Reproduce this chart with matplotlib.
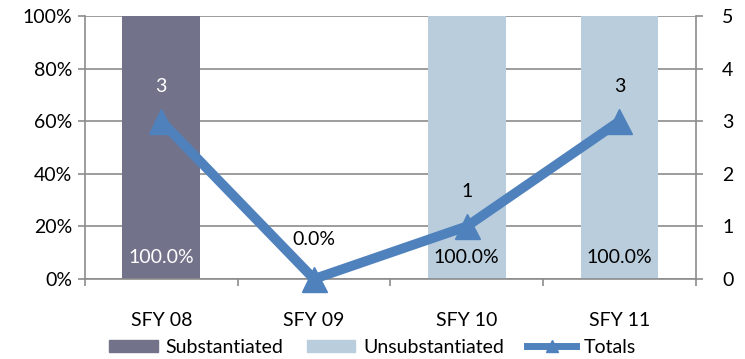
import matplotlib
matplotlib.use('Agg')
import matplotlib.pyplot as plt
from matplotlib.patches import Patch
from matplotlib.lines import Line2D

categories = ['SFY 08', 'SFY 09', 'SFY 10', 'SFY 11']
substantiated = [100.0, 0.0, 0.0, 0.0]
unsubstantiated = [0.0, 0.0, 100.0, 100.0]
totals = [3, 0, 1, 3]
pct_labels = ['100.0%', '0.0%', '100.0%', '100.0%']

c_sub = '#72738a'
c_unsub = '#b9cddc'
c_line = '#4f81bd'
grid_c = '#8c8c8c'

plt.rcParams['font.family'] = ['Lato', 'DejaVu Sans']
fs = 14

fig = plt.figure(figsize=(7.45, 3.59), dpi=100)
ax = fig.add_axes([0.114, 0.223, 0.82, 0.732])
x = list(range(len(categories)))

ax.bar(x, substantiated, width=0.51, color=c_sub, zorder=2)
ax.bar(x, unsubstantiated, width=0.51, bottom=substantiated, color=c_unsub, zorder=2)

ax.set_ylim(0, 100)
ax.set_xlim(-0.5, 3.5)
ax.set_yticks(range(0, 101, 20))
ax.set_yticklabels(['%d%%' % v for v in range(0, 101, 20)], fontsize=fs)
ax.yaxis.grid(True, color=grid_c, linewidth=1.2, zorder=0)
ax.set_axisbelow(True)
ax.set_xticks(x)
ax.set_xticklabels(categories, fontsize=fs)
ax.set_xticks([-0.5, 0.5, 1.5, 2.5, 3.5], minor=True)
ax.tick_params(axis='x', which='major', length=0, pad=24)
ax.tick_params(axis='x', which='minor', length=5, color=grid_c, width=1.2)
ax.tick_params(axis='y', length=5, color=grid_c, width=1.2, pad=4)
for s in ['top', 'right']:
    ax.spines[s].set_visible(False)
for s in ['left', 'bottom']:
    ax.spines[s].set_color(grid_c)
    ax.spines[s].set_linewidth(1.2)

# percentage labels
for i, lab in enumerate(pct_labels):
    col = 'white' if substantiated[i] > 0 else 'black'
    yy = 8 if (substantiated[i] + unsubstantiated[i]) > 0 else 15
    ax.text(i, yy, lab, ha='center', va='center', color=col, fontsize=fs, zorder=5)

ax2 = ax.twinx()
ax2.plot(x, totals, color=c_line, linewidth=7, marker='^', markersize=18,
         zorder=4, clip_on=False)
ax2.set_ylim(0, 5)
ax2.set_yticks(range(0, 6))
ax2.set_yticklabels([str(v) for v in range(0, 6)], fontsize=fs)
ax2.tick_params(axis='y', length=5, color=grid_c, width=1.2, pad=14)
for s in ['top', 'left', 'bottom']:
    ax2.spines[s].set_visible(False)
ax2.spines['right'].set_color(grid_c)
ax2.spines['right'].set_linewidth(1.2)

for i, t in enumerate(totals):
    if t == 0:
        continue
    col = 'white' if substantiated[i] > 0 else 'black'
    ax2.text(i, t + 0.67, str(t), ha='center', va='center', color=col, fontsize=fs)

handles = [Patch(color=c_sub), Patch(color=c_unsub),
           Line2D([0], [0], color=c_line, linewidth=5, marker='^', markersize=8)]
fig.legend(handles, ['Substantiated', 'Unsubstantiated', 'Totals'],
           loc='center', bbox_to_anchor=(0.5, 0.033), ncol=3, frameon=False,
           fontsize=fs, handlelength=2.5, handleheight=0.55, columnspacing=1.2,
           handletextpad=0.4)

plt.savefig('out.png', dpi=100)
